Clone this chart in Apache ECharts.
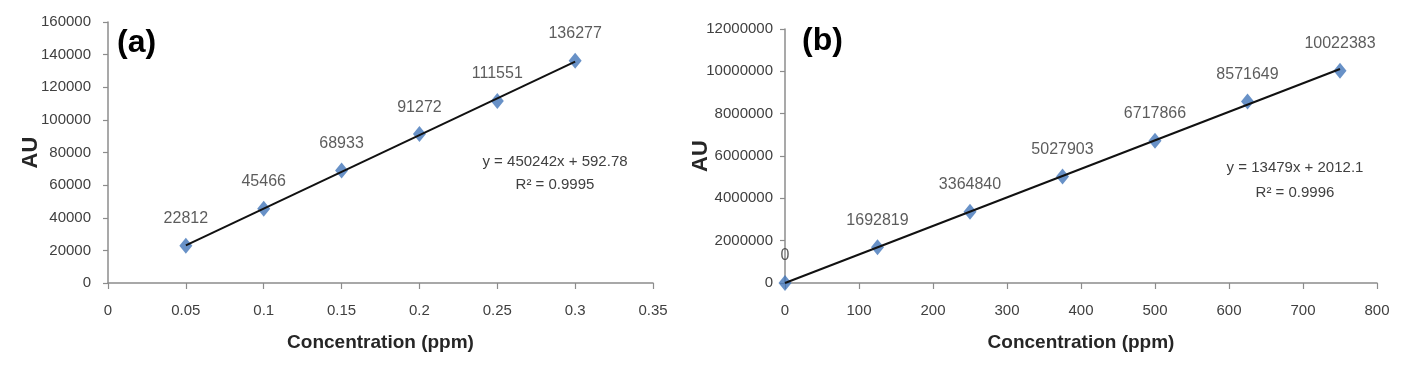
<!DOCTYPE html>
<html>
<head>
<meta charset="utf-8">
<script src="https://cdn.jsdelivr.net/npm/echarts@6/dist/echarts.min.js"></script>
<style>
html,body{margin:0;padding:0;background:#fff;}
#c{width:1408px;height:365px;}
</style>
</head>
<body>
<div id="c"></div>
<script>
// Panel (a)
const concA = [0.05, 0.1, 0.15, 0.2, 0.25, 0.3];
const auA = [22812, 45466, 68933, 91272, 111551, 136277];
const trendA = [[0.05, 23105], [0.3, 135665]];
const eqA = ['y = 450242x + 592.78', 'R² = 0.9995'];
// Panel (b)
const concB = [0, 125, 250, 375, 500, 625, 750];
const auB = [0, 1692819, 3364840, 5027903, 6717866, 8571649, 10022383];
const trendB = [[0, 2012], [750, 10111262]];
const eqB = ['y = 13479x + 2012.1', 'R² = 0.9996'];

const FONT = '"Liberation Sans", Arial, sans-serif';
const AXIS_COLOR = '#8c8c8c';
const LABEL_COLOR = '#404040';

function xAx(gi, max, interval) {
  return {
    gridIndex: gi, type: 'value', min: 0, max: max, interval: interval,
    name: 'Concentration (ppm)', nameLocation: 'middle', nameGap: 50, nameMoveOverlap: false,
    nameTextStyle: {fontFamily: FONT, fontWeight: 'bold', fontSize: 19, color: '#262626'},
    axisLine: {show: true, lineStyle: {color: AXIS_COLOR, width: 1.5}},
    axisTick: {show: true, length: 6, lineStyle: {color: AXIS_COLOR, width: 1.2}},
    axisLabel: {fontFamily: FONT, fontSize: 15, color: LABEL_COLOR, margin: 20, formatter: v => String(v)},
    splitLine: {show: false}
  };
}
function yAx(gi, max, interval, gap, margin) {
  return {
    gridIndex: gi, type: 'value', min: 0, max: max, interval: interval,
    name: 'AU', nameLocation: 'middle', nameGap: gap, nameRotate: 90, nameMoveOverlap: false,
    nameTextStyle: {fontFamily: FONT, fontWeight: 'bold', fontSize: 22, color: '#262626'},
    axisLine: {show: true, lineStyle: {color: AXIS_COLOR, width: 1.5}},
    axisTick: {show: true, length: 5, lineStyle: {color: AXIS_COLOR, width: 1.2}},
    axisLabel: {fontFamily: FONT, fontSize: 15, color: LABEL_COLOR, margin: margin, formatter: v => String(v)},
    splitLine: {show: false}
  };
}
function scatter(xi, xs, ys) {
  return {
    type: 'scatter', xAxisIndex: xi, yAxisIndex: xi,
    data: xs.map((x, i) => [x, ys[i]]),
    symbol: 'diamond', symbolSize: [13, 16],
    itemStyle: {color: '#4276b9'},
    label: {show: true, position: 'top', distance: 11, fontFamily: FONT, fontSize: 16, color: '#333333',
      formatter: p => String(p.value[1])},
    z: 2
  };
}
function trend(xi, pts) {
  return {
    type: 'line', xAxisIndex: xi, yAxisIndex: xi, data: pts,
    symbol: 'none', lineStyle: {color: '#111111', width: 2}, z: 3, silent: true
  };
}

const chart = echarts.init(document.getElementById('c'), null, {renderer: 'canvas'});
chart.setOption({
  animation: false,
  backgroundColor: '#ffffff',
  grid: [
    {left: 108, top: 22, width: 545, height: 261},
    {left: 785, top: 29, width: 592, height: 254}
  ],
  xAxis: [xAx(0, 0.35, 0.05), xAx(1, 800, 100)],
  yAxis: [yAx(0, 160000, 20000, 66, 17), yAx(1, 12000000, 2000000, 73, 12)],
  series: [scatter(0, concA, auA), trend(0, trendA), scatter(1, concB, auB), trend(1, trendB)],
  graphic: [
    {type: 'text', left: 117, top: 27, style: {text: '(a)', font: 'bold 32px ' + FONT, fill: '#000'}},
    {type: 'text', left: 802, top: 25, style: {text: '(b)', font: 'bold 32px ' + FONT, fill: '#000'}},
    {type: 'text', x: 555, y: 150, style: {text: eqA.join('\n'), font: '15px ' + FONT, fill: '#404040', align: 'center', lineHeight: 23}},
    {type: 'text', x: 1295, y: 155, style: {text: eqB.join('\n'), font: '15px ' + FONT, fill: '#404040', align: 'center', lineHeight: 25}}
  ]
});
</script>
</body>
</html>
